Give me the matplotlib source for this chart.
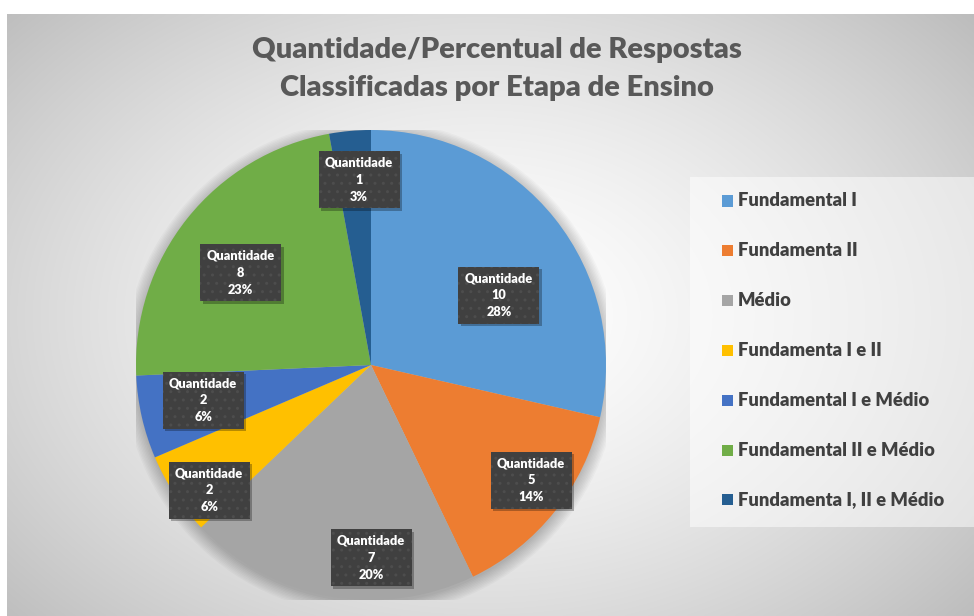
import numpy as np
import matplotlib
matplotlib.use("Agg")
import matplotlib.pyplot as plt
from matplotlib.patches import Rectangle, Circle

# ---------------- data ----------------
categories = ["Fundamental I", "Fundamenta II", "Médio", "Fundamenta I e II",
              "Fundamental I e Médio", "Fundamental II e Médio", "Fundamenta I, II e Médio"]
quantidades = [10, 5, 7, 2, 2, 8, 1]
percentuais = ["28%", "14%", "20%", "6%", "6%", "23%", "3%"]
title_text = "Quantidade/Percentual de Respostas\nClassificadas por Etapa de Ensino"

# ---------------- style / layout ----------------
colors = ["#5B9BD5", "#ED7D31", "#A5A5A5", "#FFC000", "#4472C4", "#70AD47", "#255E91"]
label_pos = [(0.62, 28.7), (0.84, -35.8), (0.82, -90.0), (0.87, -142.3),
             (0.73, -168.2), (0.68, 144.7), (0.79, 93.7)]  # (radius, angle) of label boxes
FONT = "Lato"
WEIGHT = "heavy"
W, H = 974, 616
PCX, PCY, R = 371, 365, 235   # pie centre / radius in pixels (y from top)

fig = plt.figure(figsize=(W / 100, H / 100), dpi=100, facecolor="white")

# background radial gradient
bg = fig.add_axes([7 / W, 0, (W - 7) / W, (H - 14) / H])
bg.axis("off")
ny, nx = 301, 484
yy, xx = np.mgrid[0:ny, 0:nx]
d = np.sqrt(((xx / nx - 0.49) / 0.62) ** 2 + ((yy / ny - 0.50) / 0.70) ** 2)
val = 1.0 - 0.23 * np.clip(d, 0, 1.4) ** 1.5
bg.imshow(np.dstack([val] * 3), extent=[0, 1, 0, 1], aspect="auto", origin="upper",
          interpolation="bilinear")
bg.set_xlim(0, 1)
bg.set_ylim(0, 1)

# pie axes
ax = fig.add_axes([(PCX - R) / W, (H - PCY - R) / H, 2 * R / W, 2 * R / H])
for k in range(10):
    ax.add_patch(Circle((0.0, -0.012), 1.0 + 0.006 * k, color="black", alpha=0.025,
                        lw=0, zorder=0))
wedges, _ = ax.pie(quantidades, colors=colors, startangle=90, counterclock=False,
                   radius=1.0, wedgeprops=dict(linewidth=0))
for w_ in wedges:
    w_.set_zorder(1)
ax.set_xlim(-1, 1)
ax.set_ylim(-1, 1)
ax.set_aspect("equal")
ax.axis("off")

px = 2.0 / (2 * R)
bw, bh = 81 * px, 57 * px
for q, p, (r, a) in zip(quantidades, percentuais, label_pos):
    x = r * np.cos(np.radians(a))
    y = r * np.sin(np.radians(a))
    ax.add_patch(Rectangle((x - bw / 2 + 2.5 * px, y - bh / 2 - 2.5 * px), bw, bh,
                           facecolor="black", alpha=0.28, lw=0, zorder=3))
    ax.add_patch(Rectangle((x - bw / 2, y - bh / 2), bw, bh, facecolor="#404040",
                           edgecolor="#4d4d4d", hatch="..", lw=0, zorder=4))
    ax.text(x, y, f"Quantidade\n{q}\n{p}", ha="center", va="center", color="white",
            fontsize=9.2, fontweight=WEIGHT, family=FONT, linespacing=1.5, zorder=5)

# title
fig.text(497 / W, 1 - 69 / H, title_text, ha="center", va="center", fontsize=21,
         fontweight=WEIGHT, color="#595959", family=FONT, linespacing=1.58)

# legend (manual)
fig.patches.append(Rectangle((690 / W, 1 - 527 / H), (W - 690) / W, 350 / H,
                             transform=fig.transFigure, facecolor="white", alpha=0.5,
                             lw=0, zorder=1))
for i, (c, name) in enumerate(zip(colors, categories)):
    yc = 201 + i * 49.8
    fig.patches.append(Rectangle((722 / W, 1 - (yc + 5.5) / H), 11 / W, 11 / H,
                                 transform=fig.transFigure, facecolor=c, lw=0, zorder=2))
    fig.text(738 / W, 1 - yc / H, name, ha="left", va="center", fontsize=13.2,
             fontweight=WEIGHT, color="#404040", family=FONT, zorder=3)

fig.savefig("out.png", dpi=100, facecolor="white")
